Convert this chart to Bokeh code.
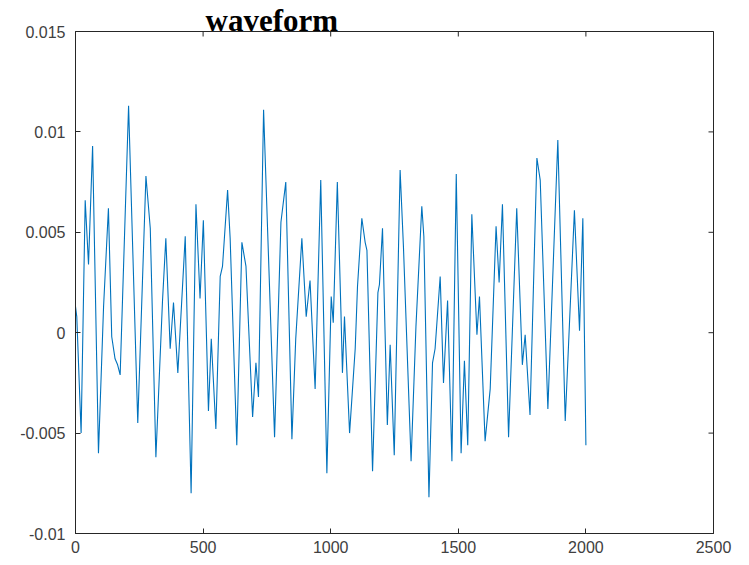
import math
from bokeh.plotting import figure
from bokeh.models import Range1d, FixedTicker
from bokeh.embed import file_html
from bokeh.resources import INLINE

# waveform samples
sample_idx = [0, 5, 22, 38, 51, 67, 90, 110, 129, 142, 155, 165, 175, 208, 244, 276, 293, 315,
              341, 354, 371, 384, 401, 430, 453, 472, 488, 501, 521, 532, 550, 567, 576, 596,
              606, 632, 652, 668, 694, 707, 717, 737, 780, 805, 824, 848, 863, 887, 904, 919,
              939, 961, 985, 1002, 1010, 1026, 1040, 1046, 1054, 1074, 1096, 1105, 1122, 1135,
              1142, 1164, 1185, 1191, 1203, 1222, 1233, 1249, 1272, 1285, 1315, 1334, 1357,
              1365, 1385, 1399, 1409, 1429, 1442, 1458, 1475, 1492, 1511, 1524, 1537, 1553,
              1573, 1583, 1605, 1625, 1648, 1660, 1673, 1697, 1729, 1751, 1762, 1781, 1808,
              1821, 1851, 1890, 1919, 1932, 1955, 1975, 1988, 2000]
amplitude = [0.0013, 0.0008, -0.0050, 0.0066, 0.0034, 0.0093, -0.0060, 0.0013, 0.0062, -0.0002,
             -0.0013, -0.0016, -0.0021, 0.0113, -0.0045, 0.0078, 0.0052, -0.0062,
             0.0016, 0.0047, -0.0008, 0.0015, -0.0020, 0.0048, -0.0080, 0.0064, 0.0017, 0.0056,
             -0.0039, -0.0003, -0.0048, 0.0028, 0.0033, 0.0071,
             0.0047, -0.0056, 0.0045, 0.0033, -0.0042, -0.0015, -0.0032, 0.0111, -0.0052, 0.0055,
             0.0075, -0.0053, -0.0003, 0.0047, 0.0008, 0.0026,
             -0.0028, 0.0076, -0.0070, 0.0018, 0.0005, 0.0075, 0.0011, -0.0020, 0.0008, -0.0050,
             -0.0008, 0.0023, 0.0057, 0.0045,
             0.0041, -0.0069, 0.0020, 0.0024, 0.0052, -0.0046, -0.0006, -0.0061, 0.0081, 0.0043,
             -0.0064, 0.0003, 0.0063,
             0.0048, -0.0082, -0.0015, -0.0008, 0.0028, -0.0025, 0.0016, -0.0064, 0.0079, -0.0060,
             -0.0014, -0.0056, 0.0059,
             -0.0001, 0.0018, -0.0054, -0.0028, 0.0053, 0.0025, 0.0064, -0.0052, 0.0062, -0.0016,
             -0.0001, -0.0041, 0.0087,
             0.0076, -0.0038, 0.0096, -0.0044, -0.0006, 0.0061, 0.0001, 0.0057, -0.0056]

x_ticks = [0, 500, 1000, 1500, 2000, 2500]
y_ticks = [-0.01, -0.005, 0, 0.005, 0.01, 0.015]
y_tick_labels = ["-0.01", "-0.005", "0", "0.005", "0.01", "0.015"]
title_text = "waveform"

AX = "#262626"
X_MIN, X_MAX = 0, 2500
Y_MIN, Y_MAX = -0.01, 0.015

p = figure(width=740, height=562, output_backend="svg", toolbar_location=None,
           x_range=Range1d(X_MIN, X_MAX), y_range=Range1d(Y_MIN, Y_MAX),
           min_border_left=75, min_border_right=27, min_border_top=31, min_border_bottom=29)
p.grid.visible = False
p.outline_line_color = AX
p.outline_line_width = 1
p.background_fill_color = "white"
p.border_fill_color = "white"

p.title.text = title_text
p.title.text_font = "Liberation Serif"
p.title.text_font_style = "bold"
p.title.text_font_size = "31px"
p.title.text_color = "black"
p.title.align = "left"
p.title.offset = 130
p.title.standoff = -13

p.line(sample_idx, amplitude, line_color="#0072BD", line_width=1.1)

def style(ax):
    ax.axis_line_color = AX
    ax.major_tick_line_color = AX
    ax.major_tick_in = 5
    ax.major_tick_out = 0
    ax.minor_tick_line_color = None
    ax.major_label_text_color = "#404040"
    ax.major_label_text_font = "Liberation Sans"
    ax.major_label_text_font_size = "16px"

xa = p.xaxis[0]
xa.ticker = FixedTicker(ticks=x_ticks)
style(xa)
xa.major_label_standoff = 7
ya = p.yaxis[0]
ya.ticker = FixedTicker(ticks=y_ticks)
ya.major_label_overrides = {t: s for t, s in zip(y_ticks, y_tick_labels)}
style(ya)
ya.major_label_standoff = 10

# inward tick marks on the top and right edges of the box (half outside is clipped)
p.scatter(x_ticks, [Y_MAX] * len(x_ticks), marker="dash", angle=math.pi / 2, size=10,
          line_color=AX, line_width=1)
p.scatter([X_MAX] * len(y_ticks), y_ticks, marker="dash", size=10,
          line_color=AX, line_width=1)

open("out.html", "w").write(file_html(p, INLINE))
